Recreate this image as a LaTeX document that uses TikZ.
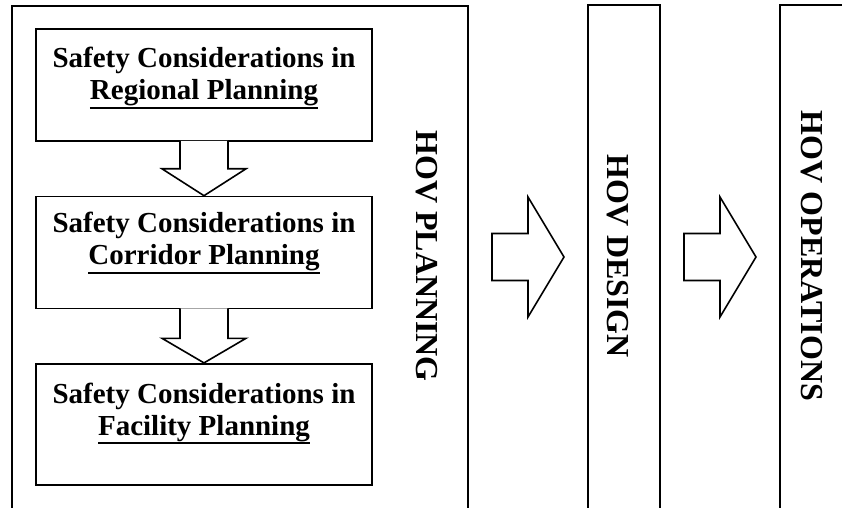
\documentclass[tikz,border=0pt]{standalone}
\usepackage{fontspec}
\setmainfont{Liberation Serif}
\usetikzlibrary{positioning,calc}
\newcommand{\ulined}[1]{\setbox0\hbox{#1}\rlap{\rule[-4.6pt]{\wd0}{1pt}}\box0}

\begin{document}
\begin{tikzpicture}[x=0.5pt, y=-0.5pt, line width=0.8pt,
  stage/.style={rectangle, draw, fill=white, minimum width=168pt, minimum height=56pt},
  caption/.style={font=\bfseries\fontsize{14.5}{16}\selectfont, align=center, inner sep=0pt},
  phase/.style={font=\bfseries\fontsize{16}{19}\selectfont, rotate=-90, inner sep=0pt},
  flow/.style={draw, fill=white, line join=miter}]
  \useasboundingbox (0,0) rectangle (842,508);
  % Columns
  \draw (12,508) |- (468,6) -- (468,508);
  \draw (588,508) |- (660,5) -- (660,508);
  \draw (842,5) -| (780,508);
  % Nodes
  \node (reg) [stage] at (204,85) {};
  \node (cor) [stage] at (204,252.5) {};
  \node (fac) [stage, minimum height=60.5pt, line width=1.1pt] at (204,424.5) {};
  \node (reg-txt) [caption, below=9pt of reg.north] {Safety Considerations in\\ \ulined{Regional Planning}};
  \node (cor-txt) [caption, below=8pt of cor.north] {Safety Considerations in\\ \ulined{Corridor Planning}};
  \node (fac-txt) [caption, below=9.5pt of fac.north] {Safety Considerations in\\ \ulined{Facility Planning}};
  % Arrows
  \draw[flow] ($(reg.south)+(-24,-1)$) -- ++(0,28) -- ++(-18,0) -- (cor.north)
    -- ($(reg.south)+(42,27)$) -- ++(-18,0) -- ++(0,-28);
  \draw[flow] ($(cor.south)+(-24,-1)$) -- ++(0,30) -- ++(-18,0) -- (fac.north)
    -- ($(cor.south)+(42,29)$) -- ++(-18,0) -- ++(0,-30);
  \coordinate (plan-out) at (492,257);
  \coordinate (des-out) at (684,257);
  \draw[flow] (plan-out) ++(0,-23.5) -- ++(36,0) -- ++(0,-36.5) -- ++(36,60)
    -- ++(-36,60) -- ++(0,-36.5) -- ++(-36,0) -- cycle;
  \draw[flow] (des-out) ++(0,-23.5) -- ++(36,0) -- ++(0,-36.5) -- ++(36,60)
    -- ++(-36,60) -- ++(0,-36.5) -- ++(-36,0) -- cycle;
  % Header
  \node (plan-txt) [phase] at (427,256) {HOV PLANNING};
  \node (des-txt) [phase] at (618,256) {HOV DESIGN};
  \node (ops-txt) [phase] at (812,256) {HOV OPERATIONS};
\end{tikzpicture}
\end{document}
